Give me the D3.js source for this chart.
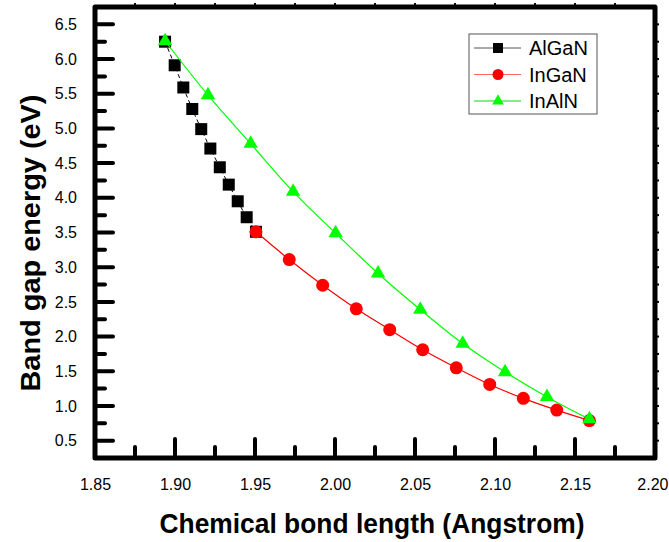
<!DOCTYPE html>
<html><head><meta charset="utf-8">
<script src="https://cdn.jsdelivr.net/npm/d3@7"></script>
<style>body{margin:0;background:#fff}svg{display:block}text{font-family:"Liberation Sans",Arial,sans-serif}</style>
</head><body><svg id="c" width="669" height="542"></svg>
<script>
const algaX = [1.8938,1.8998,1.9052,1.9108,1.9164,1.9221,1.9280,1.9336,1.9392,1.9448,1.9506];
const algaY = [6.25,5.91,5.59,5.28,4.99,4.71,4.44,4.19,3.95,3.72,3.51];
const ingaX = [1.9506,1.9714,1.9923,2.0133,2.0342,2.0548,2.0758,2.0967,2.1177,2.1386,2.1590];
const ingaY = [3.51,3.11,2.74,2.40,2.10,1.81,1.55,1.31,1.11,0.94,0.79];
const inalX = [1.8938,1.9206,1.9473,1.9738,2.0004,2.0269,2.0533,2.0798,2.1063,2.1325,2.1590];
const inalY = [6.26,5.48,4.78,4.09,3.49,2.91,2.39,1.90,1.49,1.13,0.81];
const xTicks = [1.85,1.90,1.95,2.00,2.05,2.10,2.15,2.20];
const yTicks = [0.5,1.0,1.5,2.0,2.5,3.0,3.5,4.0,4.5,5.0,5.5,6.0,6.5];
const seriesNames = ["AlGaN","InGaN","InAlN"];

const L=95,R=655,T=7,B=458;
const svg=d3.select("#c");
const x=d3.scaleLinear().domain([1.85,2.20]).range([L,R]);
const y=d3.scaleLinear().domain([0.25,6.75]).range([B,T]);

const xMinor=d3.range(0,15).map(i=>1.85+i*0.025);
const yMinor=d3.range(0,27).map(i=>0.25+i*0.25);

const g=svg.append("g");
function isMajor(v,arr){return arr.some(t=>Math.abs(t-v)<1e-6);}
xMinor.forEach(v=>{
  if(v<=1.8501||v>=2.1999) return;
  const len=isMajor(v,xTicks)?19:11;
  g.append("line").attr("x1",x(v)).attr("x2",x(v)).attr("y1",B).attr("y2",B-len)
   .attr("stroke","#000").attr("stroke-width",4).attr("stroke-linecap","round");
  g.append("line").attr("x1",x(v)).attr("x2",x(v)).attr("y1",T).attr("y2",T-4)
   .attr("stroke","#000").attr("stroke-width",2);
});
yMinor.forEach(v=>{
  if(v<=0.2501||v>=6.7499) return;
  const len=isMajor(v,yTicks)?18:10;
  g.append("line").attr("y1",y(v)).attr("y2",y(v)).attr("x1",L).attr("x2",L+len)
   .attr("stroke","#000").attr("stroke-width",4).attr("stroke-linecap","round");
  g.append("line").attr("y1",y(v)).attr("y2",y(v)).attr("x1",R).attr("x2",R+4)
   .attr("stroke","#000").attr("stroke-width",2);
});
svg.append("rect").attr("x",L).attr("y",T).attr("width",R-L).attr("height",B-T)
  .attr("fill","none").attr("stroke","#000").attr("stroke-width",5).attr("stroke-linejoin","round");

const xa=svg.append("g").attr("transform",`translate(0,${B})`)
  .call(d3.axisBottom(x).tickValues(xTicks).tickFormat(d3.format(".2f")).tickSize(0).tickPadding(21));
const ya=svg.append("g").attr("transform",`translate(${L},0)`)
  .call(d3.axisLeft(y).tickValues(yTicks).tickFormat(d3.format(".1f")).tickSize(0).tickPadding(18));
[xa,ya].forEach(a=>{a.select(".domain").remove();a.selectAll("text").attr("font-size",16).attr("fill","#000").attr("font-family","Liberation Sans, Arial, sans-serif");});
xa.selectAll(".tick").filter(d=>d>2.19).select("text").attr("text-anchor","end").attr("x",13);

svg.append("text").attr("x",372).attr("y",533).attr("text-anchor","middle")
  .attr("font-size",27).attr("font-weight","bold")
  .attr("textLength",425).attr("lengthAdjust","spacingAndGlyphs")
  .text("Chemical bond length (Angstrom)");
svg.append("text").attr("transform","translate(40,243) rotate(-90)").attr("text-anchor","middle")
  .attr("font-size",28).attr("font-weight","bold")
  .attr("textLength",297).attr("lengthAdjust","spacingAndGlyphs")
  .text("Band gap energy (eV)");

const line=d3.line().x(d=>x(d[0])).y(d=>y(d[1])).curve(d3.curveCatmullRom);
const sA=algaX.map((v,i)=>[v,algaY[i]]);
const sI=ingaX.map((v,i)=>[v,ingaY[i]]);
const sN=inalX.map((v,i)=>[v,inalY[i]]);

svg.append("path").attr("d",line(sA)).attr("fill","none").attr("stroke","#000").attr("stroke-width",1).attr("stroke-dasharray","4,3");
svg.append("g").selectAll("rect").data(sA).join("rect")
  .attr("x",d=>x(d[0])-6).attr("y",d=>y(d[1])-6).attr("width",12).attr("height",12).attr("fill","#000");

svg.append("path").attr("d",line(sI)).attr("fill","none").attr("stroke","#ff0000").attr("stroke-width",1.2);
svg.append("g").selectAll("circle").data(sI).join("circle")
  .attr("cx",d=>x(d[0])).attr("cy",d=>y(d[1])).attr("r",6.5).attr("fill","#ff0000");

const tri=d3.symbol().type(d3.symbolTriangle).size(90);
svg.append("path").attr("d",line(sN)).attr("fill","none").attr("stroke","#00ff00").attr("stroke-width",1.2);
svg.append("g").selectAll("path").data(sN).join("path")
  .attr("d",tri).attr("transform",d=>`translate(${x(d[0])},${y(d[1])})`).attr("fill","#00ff00");

const lg=svg.append("g");
lg.append("rect").attr("x",469).attr("y",34).attr("width",128).attr("height",80)
  .attr("fill","#fff").attr("stroke","#555").attr("stroke-width",1);
const lcol=["#000","#ff0000","#00ff00"];
const lline=["#555","#ff6666","#00dd00"];
seriesNames.forEach((n,i)=>{
  const cy=48+i*26.5;
  lg.append("line").attr("x1",474).attr("x2",521).attr("y1",cy).attr("y2",cy).attr("stroke",lline[i]).attr("stroke-width",1);
  if(i===0) lg.append("rect").attr("x",493).attr("y",cy-5).attr("width",10).attr("height",10).attr("fill",lcol[i]);
  if(i===1) lg.append("circle").attr("cx",498).attr("cy",cy).attr("r",5.5).attr("fill",lcol[i]);
  if(i===2) lg.append("path").attr("d",d3.symbol().type(d3.symbolTriangle).size(60)).attr("transform",`translate(498,${cy})`).attr("fill",lcol[i]);
  lg.append("text").attr("x",529).attr("y",cy+7).attr("font-size",20).attr("fill","#000").text(n);
});
</script></body></html>
